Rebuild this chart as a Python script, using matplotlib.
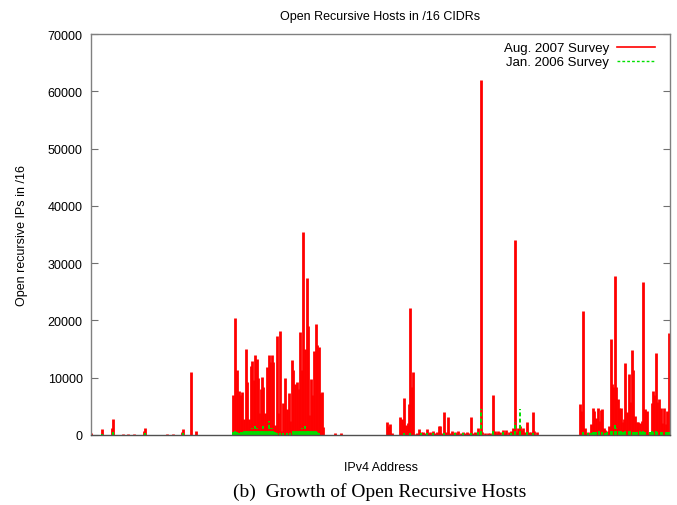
import matplotlib
matplotlib.use("Agg")
import matplotlib.pyplot as plt
from matplotlib.lines import Line2D

# Address position expressed in first-octet units (0-256), hosts per /16
aug_addr = [0.2, 4.9, 9.3, 9.7, 14.1, 16.4, 19.0, 23.4, 23.9, 33.6, 36.3, 40.2, 40.7, 44.2, 46.4,
            62.9, 63.8, 64.7, 65.4, 66.2, 66.9, 67.6, 68.4, 68.8, 69.7, 70.6, 71.3, 71.9, 72.4,
            73.2, 73.7, 74.3, 75.0, 75.5, 76.2, 76.9, 77.7, 78.6, 79.1, 79.9, 80.6, 81.4, 82.1,
            82.8, 83.7, 84.5, 85.0, 85.9, 86.7, 87.4, 88.0, 88.9, 89.5, 90.2, 90.9, 91.8, 92.6,
            93.3, 93.9, 94.6, 95.4, 95.9, 96.5, 97.1, 97.9, 98.5, 99.3, 100.1, 100.7, 101.4,
            102.1, 102.7, 107.9, 110.5,
            131.0, 131.5, 132.2, 133.0, 136.6, 137.4, 138.1, 138.5, 139.3, 140.0, 140.7, 141.0,
            141.8, 142.5, 143.3, 144.2, 145.0, 145.8, 146.7, 147.6, 148.4, 149.1, 149.8, 150.6,
            151.3, 152.1, 153.0, 154.0,
            154.3, 155.2, 156.2, 157.0, 157.7, 158.6, 159.5, 160.2, 160.9, 161.6, 162.4, 163.5,
            164.6, 165.3, 166.1, 167.0, 168.0, 168.8, 169.7, 170.5, 171.2, 172.3,
            173.0, 174.3, 175.7, 176.6, 177.6, 178.6, 179.3, 180.1, 181.0, 182.0, 182.8, 183.7,
            184.6, 185.6, 186.4, 187.5, 188.2, 188.9, 189.7, 190.2, 190.8, 191.8, 192.9, 193.8,
            194.6, 195.3, 196.0, 197.1,
            216.2, 216.6, 217.7, 218.4, 219.1, 219.9, 220.9, 221.8, 222.5, 223.3, 224.0, 224.8,
            225.5, 226.1, 226.7, 227.3, 227.8, 228.3, 229.0, 229.8, 230.4, 231.0, 231.5, 232.1,
            232.9, 233.6, 234.3, 235.1, 235.8, 236.2, 236.9, 237.7, 238.3, 239.0, 239.7, 240.5,
            241.2, 242.0, 242.7, 243.5, 244.2, 245.0, 245.5, 246.0, 246.6, 247.2, 247.9, 248.6,
            249.1, 249.8, 250.4, 251.1, 251.9, 252.6, 253.3, 254.1, 254.8, 255.4, 255.8]
aug_hosts = [400, 1000, 1300, 2800, 150, 150, 150, 700, 1300, 250, 150, 500, 1100, 11000, 700,
             7000, 20400, 11300, 7700, 7000, 7450, 2800, 15000, 9300, 2800, 12100, 13000, 9600,
             14000, 13300, 10000, 3900, 8000, 10200, 8400, 3900, 11800, 14000, 12800, 14000,
             12800, 1700, 17300, 3900, 18200, 700, 5600, 10000, 4500, 7400, 2500, 13100, 11300,
             8900, 9200, 8000, 18000, 11400, 35500, 15000, 27400, 19000, 3500, 9800, 7000,
             14700, 19400, 15700, 15400, 7400, 7500, 1400, 300, 400,
             2200, 1600, 1900, 350, 3100, 2800, 1900, 6450, 1700, 2100, 5400, 22100,
             8300, 11000, 200, 400, 1000, 500, 500, 300, 1000, 300, 500, 400,
             650, 300, 500, 1600,
             1600, 400, 4100, 500, 3100, 400, 750, 300, 600, 400, 750, 300,
             450, 300, 600, 400, 3100, 300, 450, 400, 1200, 62000,
             450, 300, 350, 400, 6900, 750, 400, 750, 500, 930, 400, 870,
             500, 650, 1300, 34000, 600, 1300, 1600, 900, 1150, 500, 2300, 450,
             600, 4000, 750, 450,
             5400, 4250, 21600, 1300, 300, 450, 1900, 4800, 4250, 2900, 4700, 2500,
             4400, 4500, 1200, 930, 600, 750, 1600, 16800, 8900, 8300, 27800, 8300,
             6300, 4700, 4800, 2200, 2800, 12500, 4000, 10650, 5700, 14900, 11350, 3400,
             2300, 2200, 2100, 2500, 26650, 4500, 1500, 4250, 350, 600, 5600, 7700,
             7000, 14400, 5700, 6300, 4800, 2100, 4800, 1900, 4250, 17800, 9000]

jan_addr = [0.2, 4.9, 9.7, 23.9, 40.7,
            62.9, 63.4, 63.8, 64.7, 65.4, 66.2, 66.9, 67.6, 68.4, 69.0, 69.7, 70.6, 71.3,
            71.9, 72.4, 73.2, 73.7, 74.3, 75.0, 75.5, 76.2, 76.9, 77.7, 78.6, 79.1, 79.9,
            80.6, 81.4, 82.1, 83.7, 85.0, 86.7, 88.0, 89.5, 90.2, 90.9, 91.8, 92.6, 93.3,
            93.9, 94.6, 95.4, 95.9, 96.5, 97.1, 97.9, 98.5, 99.3, 100.1, 100.7,
            138.5, 141.0, 145.8, 148.4, 151.3, 156.2, 160.9, 164.6, 168.0, 171.2, 172.3,
            177.6, 182.0, 185.6, 187.5, 189.7, 192.9, 195.3,
            217.7, 219.9, 220.9, 221.8, 222.5, 223.3, 224.8, 226.1, 227.3, 228.3, 229.8,
            230.4, 231.5, 232.1, 233.6, 234.3, 235.1, 236.2, 237.7, 238.3, 239.7, 240.5,
            241.2, 242.7, 243.5, 244.2, 245.0, 247.2, 247.9, 248.6, 249.8, 250.4, 251.9,
            252.6, 254.1, 254.8, 255.4]
jan_hosts = [200, 200, 500, 300, 300,
             500, 400, 700, 500, 400, 500, 600, 800, 1000, 700, 900, 1100, 1300,
             900, 1600, 1200, 900, 800, 700, 1100, 1500, 800, 1000, 2500, 1300, 1200,
             900, 500, 400, 300, 300, 400, 300, 1000, 800, 900, 1000, 700, 1300,
             1100, 1600, 900, 800, 1000, 1100, 900, 700, 800, 500, 400,
             300, 300, 400, 300, 300, 300, 300, 300, 400, 500, 4500,
             1000, 500, 300, 2300, 4600, 500, 400,
             500, 400, 300, 500, 600, 500, 800, 600, 400, 500, 900,
             1100, 1750, 1200, 900, 700, 500, 700, 900, 800, 600, 600,
             500, 700, 600, 900, 500, 600, 700, 500, 700, 600, 500,
             600, 600, 500, 500]

yticks = [0, 10000, 20000, 30000, 40000, 50000, 60000, 70000]

RED = '#ff0000'
GREEN = '#00e000'

plt.rcParams['font.family'] = ['Liberation Sans', 'DejaVu Sans']
fig = plt.figure(figsize=(6.77, 5.06), dpi=100)
ax = fig.add_axes([91/677, 1-436/506, (670-91)/677, (436-35)/506])

ax.vlines(aug_addr, 0, aug_hosts, colors=RED, linewidth=2.0)
ax.vlines(jan_addr, 0, jan_hosts, colors=GREEN, linewidth=1.4, linestyles=(0, (2, 1.2)))

ax.set_xlim(0, 256)
ax.set_ylim(0, 70000)
ax.set_yticks(yticks)
ax.set_yticklabels([str(v) for v in yticks], fontsize=9)
ax.set_xticks([])
ax.tick_params(axis='y', direction='in', length=5, left=True, right=True, color='#707070', pad=6)
for s in ax.spines.values():
    s.set_color('#808080')
    s.set_linewidth(1.0)
ax.spines['bottom'].set_color('#505050')

ax.set_title('Open Recursive Hosts in /16 CIDRs', fontsize=9, pad=11)
ax.set_ylabel('Open recursive IPs in /16', fontsize=9, labelpad=14)
ax.set_xlabel('IPv4 Address', fontsize=9, labelpad=19)

handles = [Line2D([0], [0], color=RED, lw=1.2),
           Line2D([0], [0], color=GREEN, lw=1.0, linestyle=(0, (2, 1.5)))]
ax.legend(handles, ['Aug. 2007 Survey', 'Jan. 2006 Survey'], loc='upper right',
          frameon=False, markerfirst=False, fontsize=9.5, handlelength=2.9,
          labelspacing=0.15, borderaxespad=0.2, handletextpad=0.6,
          bbox_to_anchor=(0.988, 1.0))

fig.text(380/677, 1-492/506, '(b)  Growth of Open Recursive Hosts', ha='center', va='center',
         fontsize=14, family=['Liberation Serif', 'DejaVu Serif'])

fig.savefig('out.png', dpi=100)
